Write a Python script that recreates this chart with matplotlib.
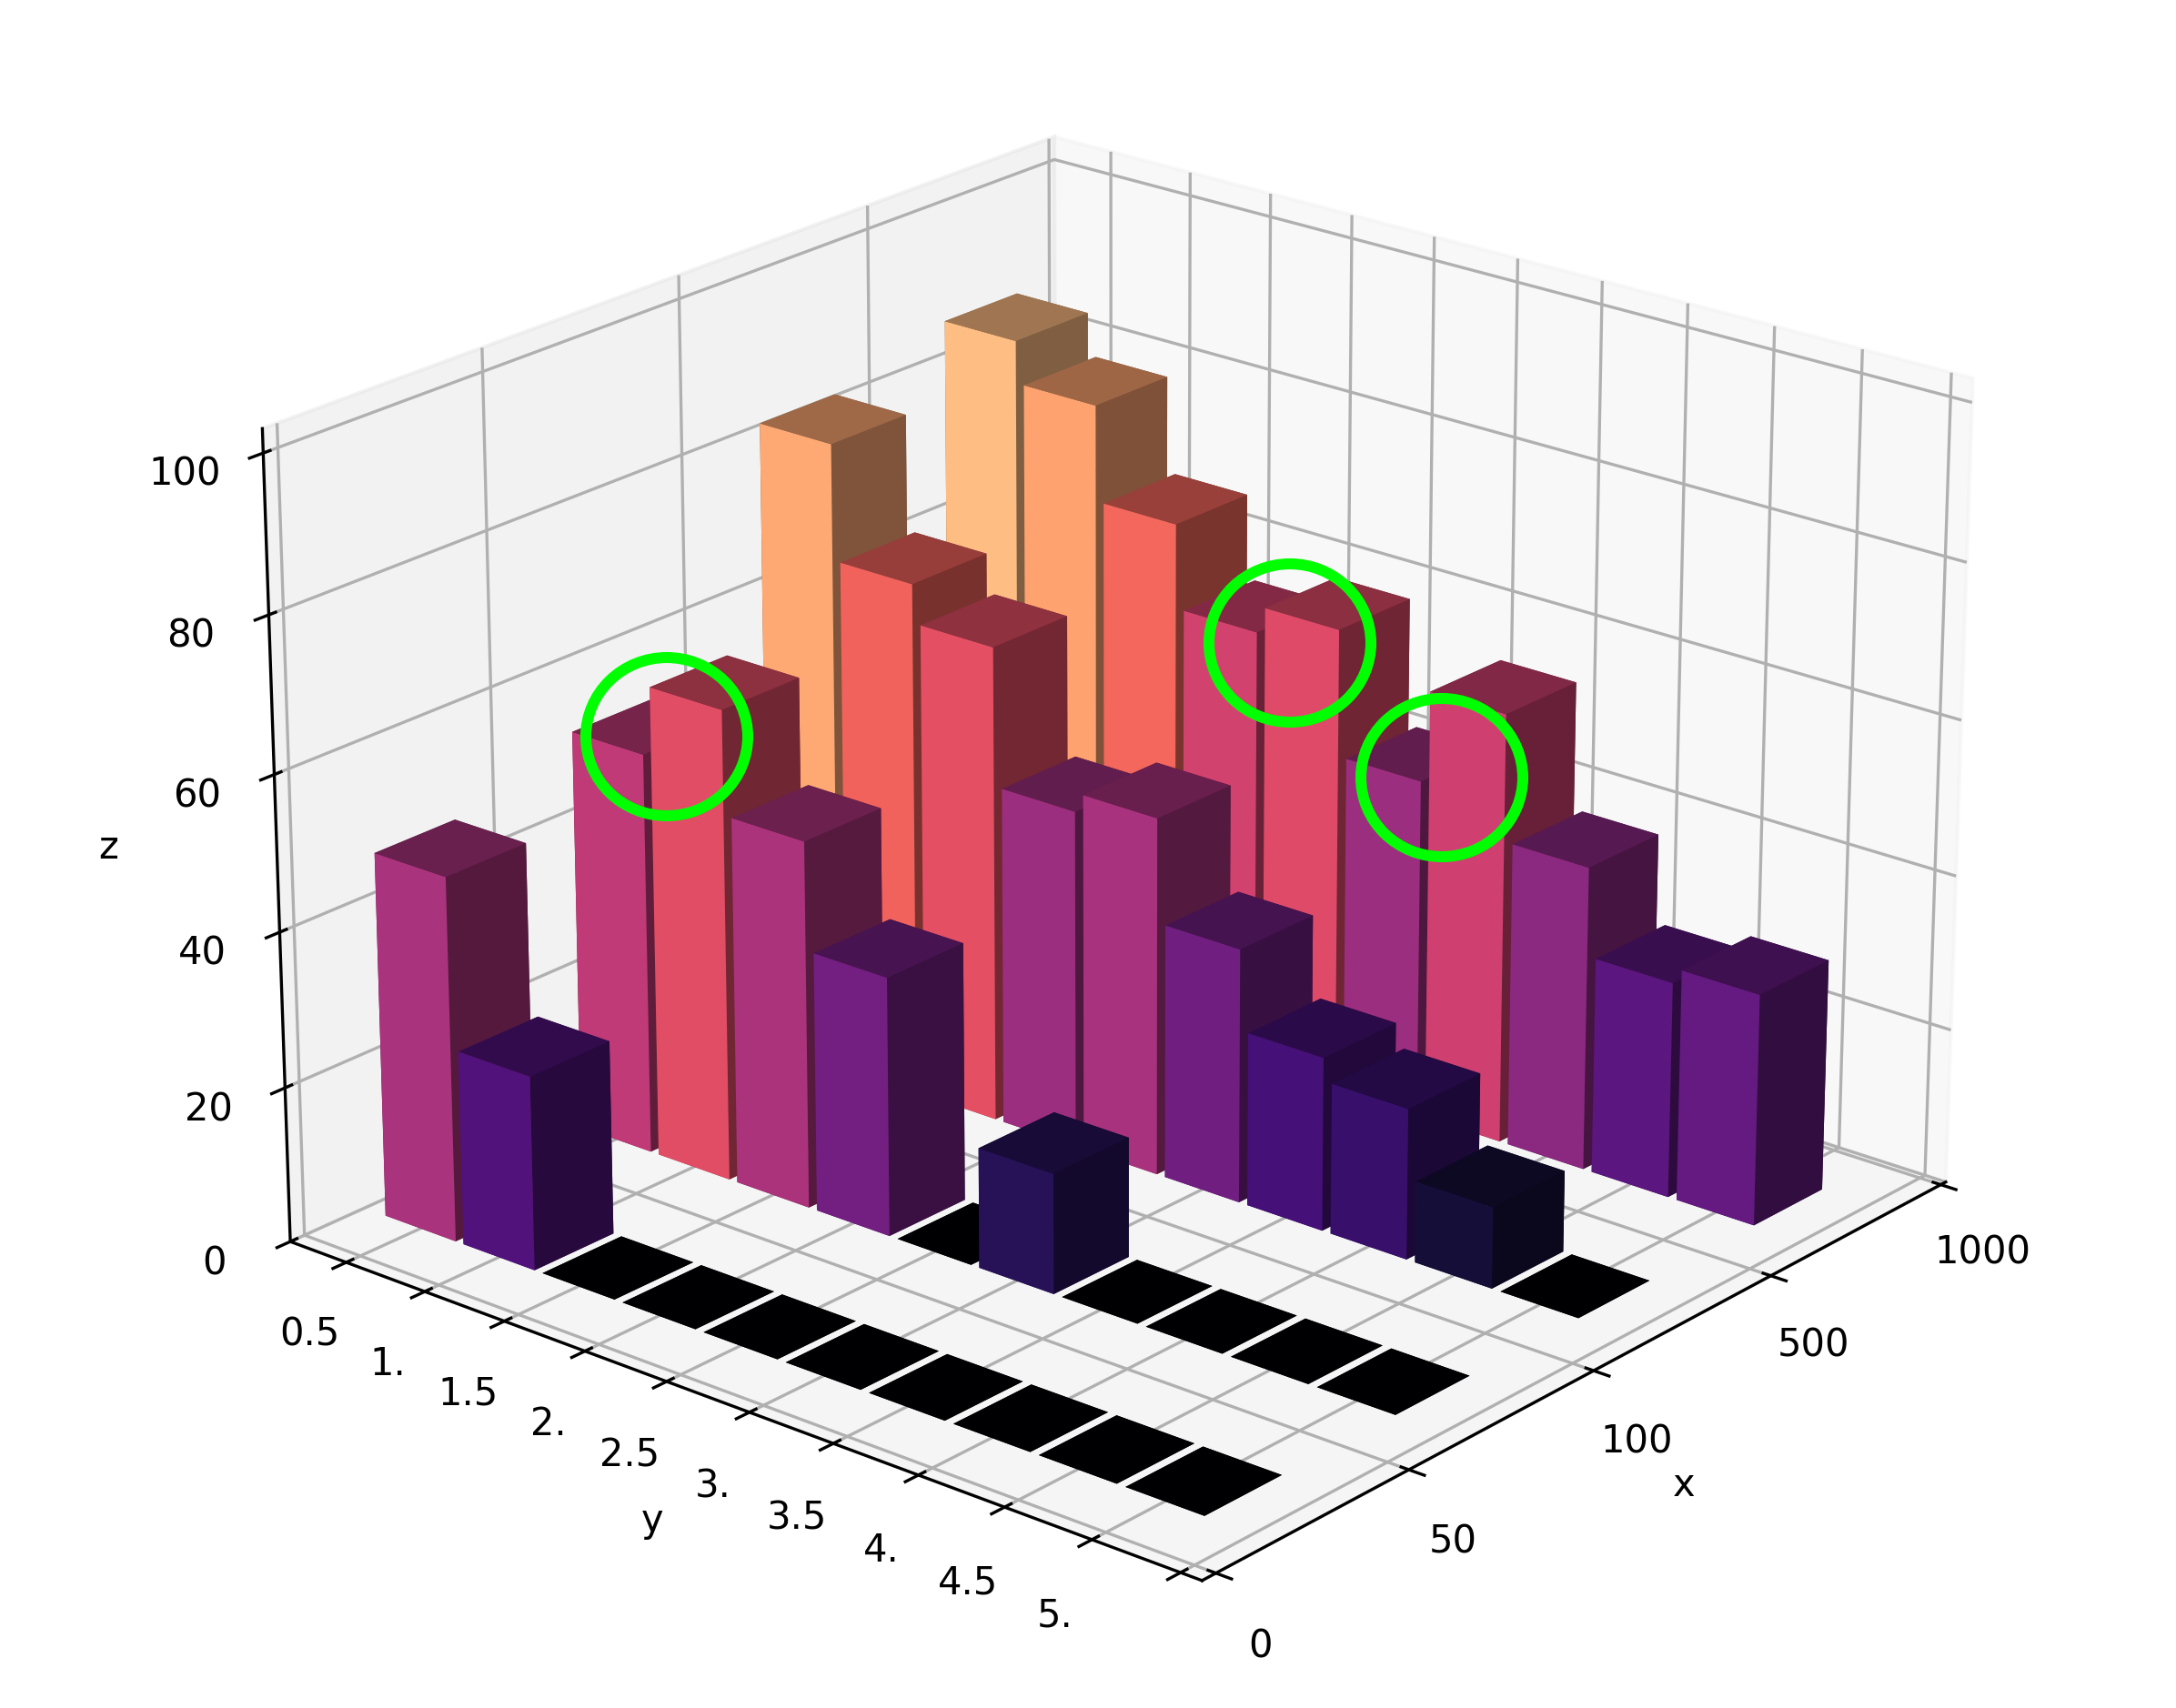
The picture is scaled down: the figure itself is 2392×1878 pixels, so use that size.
import numpy as np
import matplotlib
matplotlib.use('Agg')
import matplotlib.pyplot as plt
from matplotlib.patches import Ellipse

# row-wise bar heights, one list per x bin, going along the y ticks
y_labels = ['0.5', '1.', '1.5', '2.', '2.5', '3.', '3.5', '4.', '4.5', '5.', '']
x_labels = ['0', '50', '100', '500', '1000']
z_ticks = [0, 20, 40, 60, 80, 100]

row_0 = [47, 25, 0, 0, 0, 0, 0, 0, 0, 0]
row_50 = [52, 61, 47.5, 33.5, 0, 15.5, 0, 0, 0, 0]
row_100 = [82, 67, 62, 44, 46.5, 33, 22.5, 19.5, 10.5, 0]
row_500 = [86, 80.5, 68, 57, 60.5, 44, 56, 39.5, 28, 30]
rows = [row_0, row_50, row_100, row_500]

W, H = 2392, 1878
fig = plt.figure(figsize=(W / 300, H / 300), dpi=300)
ax = fig.add_axes([-0.0151, -0.0312, 1.04, 1.08], projection='3d')
ax.view_init(elev=22, azim=-140)
ax.set_box_aspect((4, 4, 2.92), zoom=0.70)
ax._dist = 7

# faces: bottom, top, -y, +y, -x, +x
shade = [0.625, 0.625, 0.5, 0.5, 1.0, 0.5]
cmap = plt.get_cmap('magma')
xs, ys, hs, cols = [], [], [], []
for i, row in enumerate(rows):
    for j, h in enumerate(row):
        xs.append(i + 0.3)
        ys.append(0.5 * (j + 1) - 0.225)
        hs.append(h)
        base = np.array(cmap(h / 100))
        for s in shade:
            cols.append((base[0] * s, base[1] * s, base[2] * s, 1))

ax.bar3d(xs, ys, np.zeros(len(xs)), 0.4, 0.45, hs, color=cols, shade=False)

ax.set_xlim(-0.07, 4.03)
ax.set_ylim(5.62, 0.14)
ax.set_zlim(0, 103)
ax.set_xticks(range(5))
ax.set_xticklabels(x_labels)
ax.set_yticks([0.5 * (j + 1) for j in range(11)])
ax.set_yticklabels(y_labels)
ax.set_zticks(z_ticks)
ax.set_xlabel('x')
ax.set_ylabel('y', labelpad=3)
ax.set_zlabel('z')
ax.tick_params(labelsize=10)

# green hand-drawn style markers over the figure
for cx, cy in [(733, 810), (1418, 707), (1585, 855)]:
    fig.add_artist(Ellipse((cx / W, 1 - cy / H), 178 / W, 174 / H, transform=fig.transFigure,
                           fill=False, ec='#00ff00', lw=2.9))

fig.savefig('out.png', dpi=300)
